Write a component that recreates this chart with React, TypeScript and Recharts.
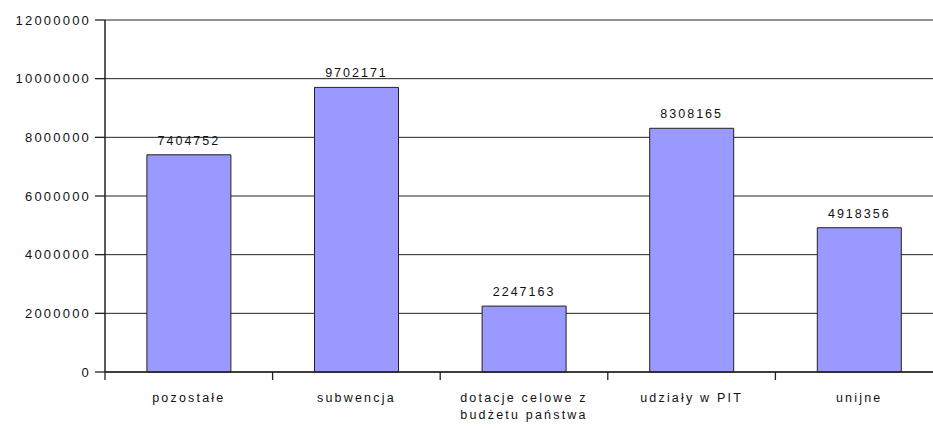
import React from "react";
import { BarChart, Bar, XAxis, YAxis, CartesianGrid, LabelList } from "recharts";

// Budget income sources (PLN)
const categories = [
  "pozostałe",
  "subwencja",
  "dotacje celowe z\nbudżetu państwa",
  "udziały w PIT",
  "unijne",
];
const amounts = [7404752, 9702171, 2247163, 8308165, 4918356];
const yTicks = [0, 2000000, 4000000, 6000000, 8000000, 10000000, 12000000];

const data = categories.map((name, i) => ({ name, value: amounts[i] }));

const FONT = "'Liberation Sans', Arial, sans-serif";
const LINE = "#222";

// Category label with a boundary tick mark at the left edge of its band
const CategoryTick = (props: any) => {
  const { x, y, payload, index, visibleTicksCount } = props;
  const half = payload.offset ?? 0;
  const lines = String(payload.value).split("\n");
  const isLast = index === visibleTicksCount - 1;
  return (
    <g>
      <line x1={x - half} y1={y} x2={x - half} y2={y + 8} stroke={LINE} strokeWidth={1.3} />
      {isLast && (
        <line x1={x + half} y1={y} x2={x + half} y2={y + 8} stroke={LINE} strokeWidth={1.3} />
      )}
      <text
        x={x}
        y={y}
        textAnchor="middle"
        fontFamily={FONT}
        fontSize={12.5}
        fill="#111"
        letterSpacing={2.2}
      >
        {lines.map((l, i) => (
          <tspan key={i} x={x} dy={i === 0 ? 30 : 17}>
            {l}
          </tspan>
        ))}
      </text>
    </g>
  );
};

export default function App() {
  return (
    <div
      style={{
        position: "fixed",
        left: 0,
        top: 0,
        width: 933,
        height: 428,
        overflow: "hidden",
        background: "#fff",
      }}
    >
      <BarChart
        width={943}
        height={428}
        data={data}
        margin={{ top: 20, right: 0, left: 0, bottom: 0 }}
        barCategoryGap="25%"
      >
        <CartesianGrid vertical={false} stroke={LINE} strokeWidth={1} />
        <XAxis
          dataKey="name"
          axisLine={{ stroke: LINE, strokeWidth: 1.3 }}
          tickLine={false}
          tickSize={0}
          tickMargin={0}
          height={56}
          interval={0}
          tick={<CategoryTick />}
        />
        <YAxis
          width={105}
          domain={[0, 12000000]}
          ticks={yTicks}
          interval={0}
          tickSize={10}
          tickMargin={4}
          axisLine={{ stroke: LINE, strokeWidth: 1.5 }}
          tickLine={{ stroke: LINE, strokeWidth: 1.3 }}
          tick={{ fontFamily: FONT, fontSize: 13, fill: "#111", letterSpacing: 2.2 }}
        />
        <Bar
          dataKey="value"
          fill="#9999FF"
          stroke="#222"
          strokeWidth={1}
          isAnimationActive={false}
        >
          <LabelList
            dataKey="value"
            position="top"
            offset={10}
            style={{ fontFamily: FONT, fontSize: 12.5, fill: "#111", letterSpacing: 2 }}
          />
        </Bar>
      </BarChart>
    </div>
  );
}
